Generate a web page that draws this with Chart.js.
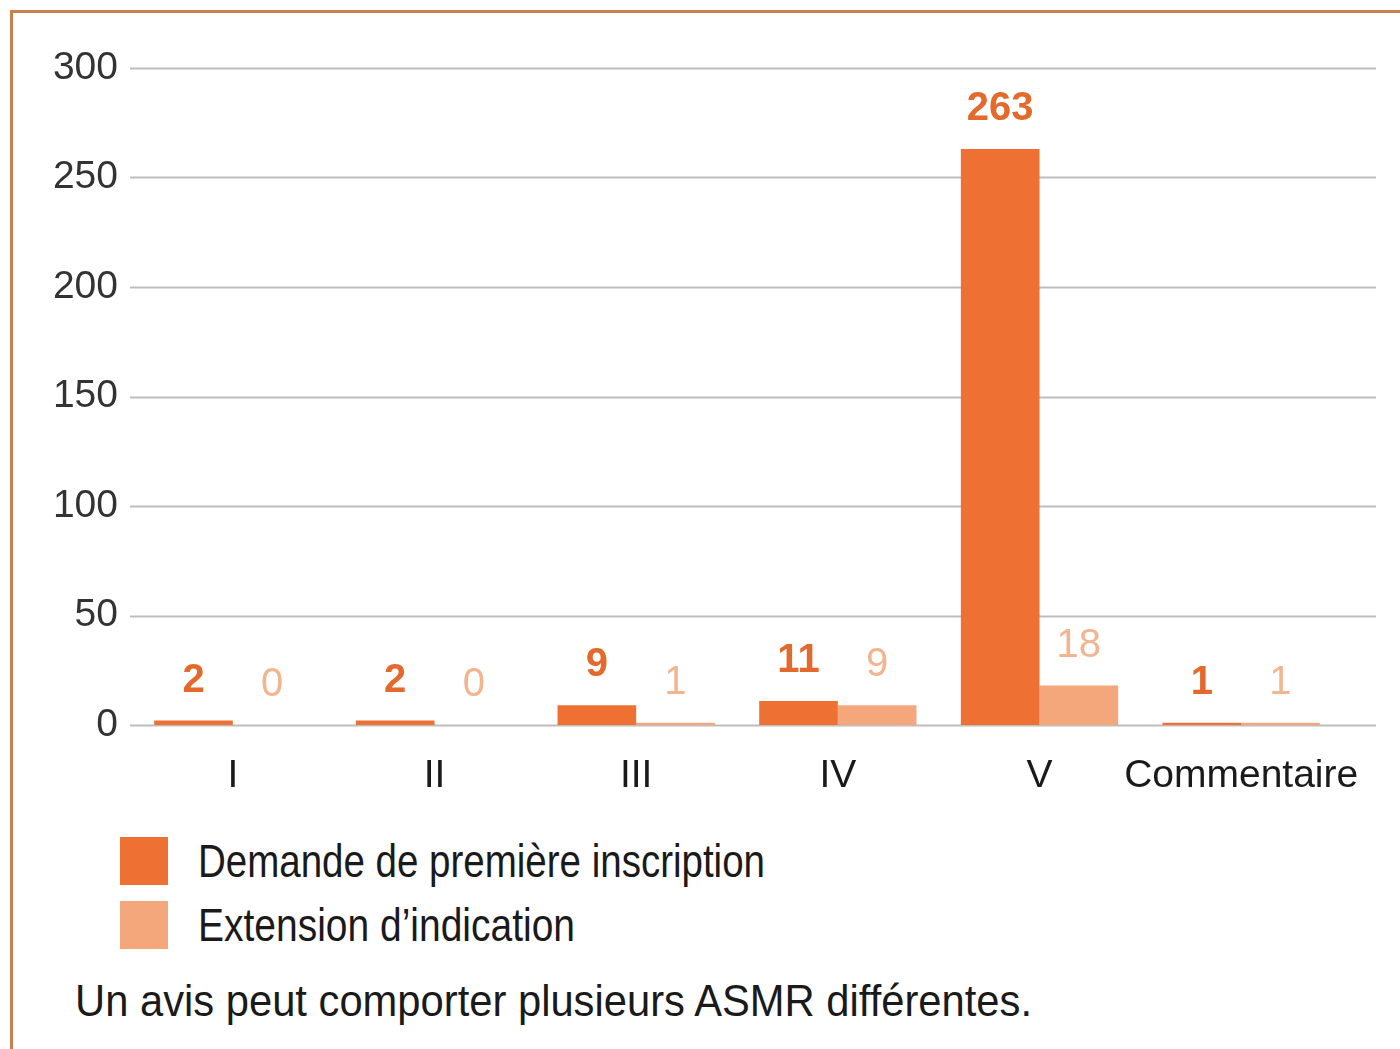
<!DOCTYPE html>
<html>
<head>
<meta charset="utf-8">
<script src="https://cdn.jsdelivr.net/npm/chart.js@4"></script>
<style>
  body { margin: 0; background: #fff; }
  #frame {
    position: absolute; left: 10px; top: 10px; width: 1390px; height: 1039px;
    border-top: 3px solid #c8804f; border-left: 3px solid #c8804f;
  }
  #wrap { position: absolute; left: 0; top: 0; width: 1400px; height: 800px; }
  .txt { font-family: "Liberation Sans", Arial, sans-serif; color: #1a1a1a; white-space: nowrap; }
  .leg { position: absolute; left: 120px; display: flex; align-items: center; font-size: 47px; }
  .leg span.box { width: 48px; height: 48px; margin-right: 30px; flex: none; }
  .fit { display: inline-block; transform-origin: left center; }
  #note { position: absolute; left: 75px; top: 976px; font-size: 44px; }
</style>
</head>
<body>
<div id="frame"></div>
<div id="wrap"><canvas id="chart"></canvas></div>
<div class="leg txt" style="top:833px"><span class="box" style="background:#ee7133"></span><span id="leg1" class="fit" data-w="567"></span></div>
<div class="leg txt" style="top:897px"><span class="box" style="background:#f5a77c"></span><span id="leg2" class="fit" data-w="377"></span></div>
<div id="note" class="txt"><span class="fit" data-w="957">Un avis peut comporter plusieurs ASMR différentes.</span></div>
<script>
// DATA
const categories = ['I', 'II', 'III', 'IV', 'V', 'Commentaire'];
const premiereInscription = [2, 2, 9, 11, 263, 1];
const extensionIndication = [0, 0, 1, 9, 18, 1];
const seriesNames = ['Demande de première inscription', 'Extension d\u2019indication'];
const yTicks = [0, 50, 100, 150, 200, 250, 300];

document.getElementById('leg1').textContent = seriesNames[0];
document.getElementById('leg2').textContent = seriesNames[1];

// squeeze the condensed-looking captions to their width in the picture
document.querySelectorAll('.fit').forEach(el => {
    const w = el.getBoundingClientRect().width;
    el.style.transform = `scaleX(${el.dataset.w / w})`;
});

const FONT = '"Liberation Sans", Arial, sans-serif';

// gridlines drawn across the full width, using the y scale
const gridPlugin = {
    id: 'grid',
    beforeDatasetsDraw(chart) {
        const ctx = chart.ctx;
        const y = chart.scales.y;
        ctx.save();
        ctx.strokeStyle = '#bdbdbd';
        ctx.lineWidth = 2;
        yTicks.forEach(v => {
            const py = Math.round(y.getPixelForValue(v)) + 0.5;
            ctx.beginPath();
            ctx.moveTo(130, py);
            ctx.lineTo(1376, py);
            ctx.stroke();
        });
        ctx.restore();
    }
};

// value labels above bars
const labelPlugin = {
    id: 'labels',
    afterDatasetsDraw(chart) {
        const ctx = chart.ctx;
        ctx.save();
        ctx.textAlign = 'center';
        ctx.textBaseline = 'bottom';
        chart.data.datasets.forEach((ds, i) => {
            const meta = chart.getDatasetMeta(i);
            ctx.fillStyle = i === 0 ? '#e4692c' : '#f2b590';
            ctx.font = (i === 0 ? 'bold ' : '') + '40px ' + FONT;
            meta.data.forEach((bar, j) => {
                ctx.fillText(ds.data[j], bar.x, bar.y - 20);
            });
        });
        ctx.restore();
    }
};

new Chart(document.getElementById('chart'), {
    type: 'bar',
    data: {
        labels: categories,
        datasets: [
            { label: seriesNames[0], data: premiereInscription, backgroundColor: '#ee7133' },
            { label: seriesNames[1], data: extensionIndication, backgroundColor: '#f5a77c' }
        ]
    },
    options: {
        responsive: true,
        maintainAspectRatio: false,
        animation: false,
        layout: { padding: { left: 0, right: 58, top: 68, bottom: 0 } },
        categoryPercentage: 0.78,
        barPercentage: 1,
        plugins: { legend: { display: false }, tooltip: { enabled: false } },
        scales: {
            x: {
                grid: { display: false },
                border: { display: false },
                ticks: { color: '#1a1a1a', font: { family: FONT, size: 39 }, padding: 20, maxRotation: 0, autoSkip: false },
                afterFit: s => { s.height = 75; }
            },
            y: {
                min: 0, max: 300,
                grid: { display: false },
                border: { display: false },
                ticks: { stepSize: 50, color: '#333', font: { family: FONT, size: 39 }, padding: 6 },
                afterFit: s => { s.width = 132; }
            }
        }
    },
    plugins: [gridPlugin, labelPlugin]
});
</script>
</body>
</html>
